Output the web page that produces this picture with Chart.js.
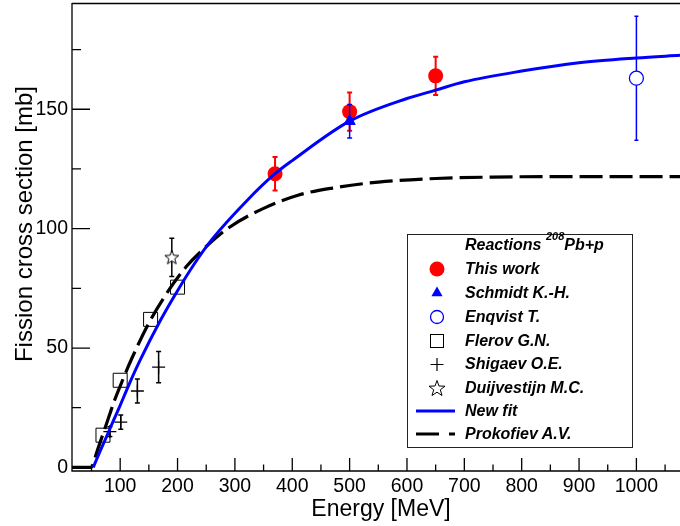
<!DOCTYPE html>
<html>
<head>
<meta charset="utf-8">
<script src="https://cdn.jsdelivr.net/npm/chart.js@4.4.1/dist/chart.umd.min.js"></script>
<style>
html,body{margin:0;padding:0;background:#fff;}
#wrap{position:relative;width:680px;height:526px;overflow:hidden;font-family:"Liberation Sans",Arial,Helvetica,sans-serif;color:#000;}
#c{position:absolute;left:0;top:0;}
.ytitle{position:absolute;left:-176.3px;top:212px;width:400px;height:24px;line-height:24px;font-size:24px;text-align:center;transform:rotate(-90deg);white-space:nowrap;}
.xtitle{position:absolute;left:231px;top:497px;width:300px;height:23px;line-height:23px;font-size:23px;text-align:center;white-space:nowrap;}
#legend{position:absolute;left:407px;top:234px;width:224px;height:212px;border:1px solid #222;background:#fff;}
#legend .row{position:absolute;left:0;width:224px;height:24px;line-height:24px;font-size:16px;font-weight:bold;font-style:italic;white-space:nowrap;}
#legend .row svg{position:absolute;left:8px;top:0;}
#legend .row span{position:absolute;left:57px;top:0;}
#legend sup{font-size:11px;position:relative;top:-2px;vertical-align:top;line-height:11px;}
</style>
</head>
<body>
<div id="wrap">
  <canvas id="c" width="680" height="526"></canvas>
  <div class="ytitle">Fission cross section [mb]</div>
  <div class="xtitle">Energy [MeV]</div>
  <div id="legend"></div>
</div>
<script>
// axis setup
const xMin = 16, xMax = 1076;
const yMin = -1.5, yMax = 194.5;
const xTicks = [100, 200, 300, 400, 500, 600, 700, 800, 900, 1000];
const xMinor = [50, 150, 250, 350, 450, 550, 650, 750, 850, 950, 1050];
const yTicks = [0, 50, 100, 150];
const yMinor = [25, 75, 125, 175];

// curves
const fitE     = [53, 65, 77, 88, 100, 115, 135, 170, 200, 230, 260, 320, 370, 400, 500, 600, 650, 700, 800, 900, 1000, 1076];
const fitSigma = [0, 6.8, 13.3, 19.5, 26, 34.5, 45, 61.5, 74, 85.5, 95.5, 111.5, 123, 128.5, 145, 154.5, 158, 161.5, 166, 169.5, 171.5, 172.6];
const prokE     = [16, 49, 60, 70, 80, 90, 105, 120, 150, 180, 215, 250, 290, 350, 410, 470, 550, 650, 750, 900, 1076];
const prokSigma = [0, 0, 7, 14, 21, 28, 37, 45.5, 60.5, 72.5, 84, 92.5, 100.5, 108.5, 114, 117, 119.5, 121, 121.6, 121.8, 121.8];

// measurements
const thisWorkE = [370, 500, 650];
const thisWorkSigma = [123, 149, 164];
const thisWorkErr = [7, 8, 8];
const schmidtE = [500];
const schmidtSigma = [145];
const schmidtErr = [7];
const enqvistE = [1000];
const enqvistSigma = [163];
const enqvistErr = [26];
const flerovE = [70, 100, 153, 200];
const flerovSigma = [13.5, 36.5, 62, 75.5];
const shigaevE = [82, 101, 130, 167];
const shigaevSigma = [15, 19, 32, 42];
const shigaevErr = [2, 3, 5, 6.5];
const duijE = [190];
const duijSigma = [88];
const duijErr = [8];

const legendLabels = ['This work', 'Schmidt K.-H.', 'Enqvist T.', 'Flerov G.N.', 'Shigaev O.E.', 'Duijvestijn M.C.', 'New fit', 'Prokofiev A.V.'];

function pts(xs, ys){ return xs.map((x,i)=>({x:x, y:ys[i]})); }

// open star marker
const starImg = document.createElement('canvas');
starImg.width = 18; starImg.height = 18;
(function(){
  const g = starImg.getContext('2d');
  g.beginPath();
  for (let k=0;k<10;k++){
    const r = k%2 ? 3.1 : 7.4;
    const a = -Math.PI/2 + k*Math.PI/5;
    const px = 9 + r*Math.cos(a), py = 9.5 + r*Math.sin(a);
    if (k===0) g.moveTo(px,py); else g.lineTo(px,py);
  }
  g.closePath();
  g.fillStyle = '#fff'; g.fill();
  g.strokeStyle = '#000'; g.lineWidth = 1; g.stroke();
})();

const errorBars = {
  id: 'errorBars',
  beforeDatasetDraw(chart, args){
    const ds = chart.data.datasets[args.index];
    if (!ds.err) return;
    const xs = chart.scales.x, ys = chart.scales.y, ctx = chart.ctx;
    ctx.save();
    ctx.strokeStyle = ds.errColor;
    ctx.lineWidth = ds.errWidth;
    ds.data.forEach((p,i)=>{
      const e = ds.err[i];
      const px = xs.getPixelForValue(p.x);
      const top = ys.getPixelForValue(p.y + e), bot = ys.getPixelForValue(p.y - e);
      const c = ds.capHalf;
      ctx.beginPath();
      ctx.moveTo(px, top); ctx.lineTo(px, bot);
      ctx.moveTo(px - c, top); ctx.lineTo(px + c, top);
      ctx.moveTo(px - c, bot); ctx.lineTo(px + c, bot);
      ctx.stroke();
    });
    ctx.restore();
  }
};

const frame = {
  id: 'frame',
  afterDatasetsDraw(chart){
    const a = chart.chartArea, ctx = chart.ctx;
    const xs = chart.scales.x, ys = chart.scales.y;
    ctx.save();
    ctx.strokeStyle = '#000';
    ctx.lineWidth = 1.3;
    ctx.beginPath();
    ctx.moveTo(a.left, a.top + 0.5); ctx.lineTo(a.right, a.top + 0.5);
    ctx.moveTo(a.left, a.top); ctx.lineTo(a.left, a.bottom);
    ctx.lineTo(a.right, a.bottom);
    xTicks.forEach(v=>{ const p = xs.getPixelForValue(v); ctx.moveTo(p, a.bottom); ctx.lineTo(p, a.bottom - 13); });
    xMinor.forEach(v=>{ const p = xs.getPixelForValue(v); ctx.moveTo(p, a.bottom); ctx.lineTo(p, a.bottom - 6.5); });
    yTicks.forEach(v=>{ const p = ys.getPixelForValue(v); ctx.moveTo(a.left, p); ctx.lineTo(a.left + 18, p); });
    yMinor.forEach(v=>{ const p = ys.getPixelForValue(v); ctx.moveTo(a.left, p); ctx.lineTo(a.left + 9, p); });
    ctx.stroke();
    ctx.restore();
  }
};

const tickFont = { family: '"Liberation Sans", Arial, sans-serif', size: 19.5 };

new Chart(document.getElementById('c'), {
  type: 'scatter',
  data: {
    datasets: [
      { label:'New fit', type:'line', data: pts(fitE, fitSigma), borderColor:'#0000ff', borderWidth:3,
        pointRadius:0, cubicInterpolationMode:'monotone', fill:false, order:0 },
      { label:'Prokofiev A.V.', type:'line', data: pts(prokE, prokSigma), borderColor:'#000', borderWidth:3.2,
        borderDash:[23,7], pointRadius:0, cubicInterpolationMode:'monotone', fill:false, order:1 },
      { label:'Enqvist T.', data: pts(enqvistE, enqvistSigma), pointStyle:'circle', pointRadius:7,
        backgroundColor:'#fff', borderColor:'#0000ff', borderWidth:1.3, order:2,
        err: enqvistErr, errColor:'#0000ff', errWidth:1.5, capHalf:2 },
      { label:'Schmidt K.-H.', data: pts(schmidtE, schmidtSigma), pointStyle:'triangle', pointRadius:6.5,
        backgroundColor:'#0000ff', borderColor:'#0000ff', borderWidth:1, order:3,
        err: schmidtErr, errColor:'#0000ff', errWidth:1.5, capHalf:2.5 },
      { label:'This work', data: pts(thisWorkE, thisWorkSigma), pointStyle:'circle', pointRadius:7.5,
        backgroundColor:'#ff0000', borderColor:'#ff0000', borderWidth:0, order:4,
        err: thisWorkErr, errColor:'#ff0000', errWidth:2, capHalf:2.5 },
      { label:'Flerov G.N.', data: pts(flerovE, flerovSigma), pointStyle:'rect', pointRadius:9.9,
        backgroundColor:'rgba(0,0,0,0)', borderColor:'#000', borderWidth:1, order:5 },
      { label:'Shigaev O.E.', data: pts(shigaevE, shigaevSigma), pointStyle:'cross', pointRadius:6.5,
        borderColor:'#000', borderWidth:1.3, order:6,
        err: shigaevErr, errColor:'#000', errWidth:1.5, capHalf:2.5 },
      { label:'Duijvestijn M.C.', data: pts(duijE, duijSigma), pointStyle: starImg, pointRadius:8,
        order:7, err: duijErr, errColor:'#000', errWidth:1.5, capHalf:2.5 }
    ]
  },
  options: {
    responsive: false,
    animation: false,
    events: [],
    devicePixelRatio: 1,
    layout: { autoPadding: false, padding: { top: 3, right: 0, left: 0, bottom: 0 } },
    plugins: { legend: { display:false }, tooltip: { enabled:false } },
    scales: {
      x: {
        type:'linear', min:xMin, max:xMax,
        grid:{ display:false, drawTicks:false }, border:{ display:false },
        afterBuildTicks: s => { s.ticks = xTicks.map(v=>({value:v})); },
        afterFit: s => { s.height = 55; s.paddingLeft = 0; s.paddingRight = 0; },
        ticks:{ color:'#000', font:tickFont, padding:4, maxRotation:0, autoSkip:false, callback: v => String(v) }
      },
      y: {
        type:'linear', min:yMin, max:yMax,
        grid:{ display:false, drawTicks:false }, border:{ display:false },
        afterBuildTicks: s => { s.ticks = yTicks.map(v=>({value:v})); },
        afterFit: s => { s.width = 72; s.paddingTop = 0; s.paddingBottom = 0; },
        ticks:{ color:'#000', font:tickFont, padding:4, autoSkip:false, callback: v => String(v) }
      }
    }
  },
  plugins: [errorBars, frame]
});

// legend box
const sym = {
  'This work': '<circle cx="21" cy="12" r="7.5" fill="#ff0000"/>',
  'Schmidt K.-H.': '<polygon points="21,5.5 26.6,15.3 15.4,15.3" fill="#0000ff"/>',
  'Enqvist T.': '<circle cx="21" cy="12" r="6.5" fill="#fff" stroke="#0000ff" stroke-width="1.3"/>',
  'Flerov G.N.': '<rect x="14.5" y="5.5" width="13" height="13" fill="none" stroke="#000" stroke-width="1"/>',
  'Shigaev O.E.': '<path d="M14.5 12.5 H27.5 M21 6 V19" stroke="#000" stroke-width="1.2"/>',
  'Duijvestijn M.C.': '<polygon points="21,4.5 23,10 29,10.2 24.3,13.8 26,19.5 21,16.2 16,19.5 17.7,13.8 13,10.2 19,10" fill="#fff" stroke="#000" stroke-width="1"/>',
  'New fit': '<line x1="0" y1="12" x2="39" y2="12" stroke="#0000ff" stroke-width="3"/>',
  'Prokofiev A.V.': '<line x1="0" y1="12" x2="39" y2="12" stroke="#000" stroke-width="3" stroke-dasharray="23 10"/>'
};
const rowCenters = [269, 293, 317, 341, 364, 388, 411, 434];
const leg = document.getElementById('legend');
let html = '<div class="row" style="top:' + (245-235-12) + 'px"><span>Reactions <sup>208</sup>Pb+p</span></div>';
legendLabels.forEach((lab,i)=>{
  html += '<div class="row" style="top:' + (rowCenters[i]-235-12) + 'px">' +
    '<svg width="40" height="24" viewBox="0 0 40 24">' + sym[lab] + '</svg><span>' + lab + '</span></div>';
});
leg.innerHTML = html;
</script>
</body>
</html>
